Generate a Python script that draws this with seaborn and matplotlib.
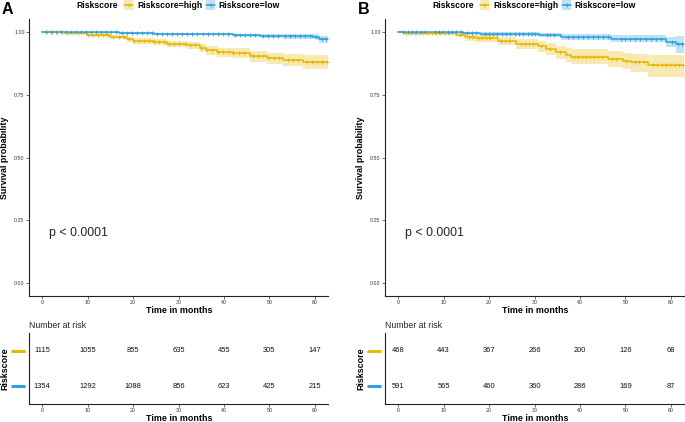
"""Kaplan-Meier curves with number-at-risk tables, two cohorts (A, B)."""
import matplotlib
matplotlib.use("Agg")
import matplotlib.pyplot as plt
from matplotlib.lines import Line2D
from matplotlib.patches import Rectangle
import numpy as np
import pandas as pd
import seaborn as sns

HIGH = "#E7B800"
LOW = "#2E9FDF"
W, H = 685, 422

# ---- panel A ----
A_high_time = [0, 4.7, 9.8, 15.0, 18.6, 20.0, 24.5, 27.4, 31.8, 34.7, 36.0, 38.4, 42.0, 45.7, 49.4, 53.0, 57.4]
A_high_surv = [1.0, 0.995, 0.987, 0.979, 0.970, 0.964, 0.958, 0.951, 0.946, 0.935, 0.926, 0.919, 0.915, 0.902, 0.895, 0.889, 0.880]
A_high_lower = [1.0, 0.991, 0.980, 0.970, 0.959, 0.952, 0.945, 0.937, 0.931, 0.919, 0.909, 0.901, 0.896, 0.881, 0.873, 0.865, 0.851]
A_high_upper = [1.0, 0.999, 0.993, 0.987, 0.980, 0.975, 0.970, 0.964, 0.960, 0.950, 0.942, 0.936, 0.933, 0.922, 0.916, 0.911, 0.906]
A_high_cens = [1.1, 2.2, 3.3, 4.4, 5.6, 6.7, 7.8, 8.9, 10.1, 11.2, 12.3, 13.4, 14.5, 15.6, 16.8, 17.9,
               19.0, 20.1, 21.3, 22.4, 23.5, 24.6, 25.8, 26.9, 28.0, 29.1, 30.2, 31.4, 32.5, 33.6,
               34.9, 36.2, 37.3, 38.6, 39.8, 40.9, 42.1, 43.3, 44.5, 46.4, 47.5, 48.6, 50.0, 51.1,
               52.2, 54.0, 55.1, 56.2, 58.2, 59.3, 60.4, 61.5, 62.6]
A_low_time = [0, 5.4, 17.0, 24.5, 42.0, 48.0, 53.0, 59.6, 61.0]
A_low_surv = [1.0, 0.997, 0.995, 0.991, 0.985, 0.983, 0.981, 0.979, 0.970]
A_low_lower = [1.0, 0.994, 0.991, 0.986, 0.978, 0.975, 0.972, 0.969, 0.955]
A_low_upper = [1.0, 1.0, 0.999, 0.996, 0.992, 0.991, 0.990, 0.989, 0.982]
A_low_cens = [0.9, 2.0, 3.1, 4.2, 5.3, 6.4, 7.5, 8.6, 9.7, 10.8, 11.9, 13.0, 14.1, 15.2, 16.3, 17.5,
              18.6, 19.7, 20.8, 21.9, 23.0, 24.1, 25.3, 26.4, 27.5, 28.6, 29.7, 30.8, 31.9, 33.0,
              34.1, 35.3, 36.4, 37.5, 38.6, 39.7, 40.8, 42.5, 43.6, 44.7, 45.8, 46.9, 48.6, 49.7,
              50.8, 51.9, 53.4, 54.5, 55.6, 56.7, 57.8, 58.9, 60.2, 61.6, 62.5]
A_max_time = 62.9
A_risk_high = [1115, 1055, 855, 635, 455, 305, 147]
A_risk_low = [1354, 1292, 1088, 856, 623, 425, 215]

# ---- panel B ----
B_high_time = [0, 1.1, 12.8, 14.7, 16.9, 21.9, 26.0, 30.7, 32.6, 34.7, 36.9, 38.0, 46.1, 49.4, 51.2, 55.0]
B_high_surv = [1.0, 0.993, 0.987, 0.977, 0.973, 0.964, 0.951, 0.942, 0.931, 0.918, 0.909, 0.901, 0.891, 0.885, 0.878, 0.866]
B_high_lower = [1.0, 0.986, 0.977, 0.964, 0.959, 0.948, 0.931, 0.920, 0.907, 0.891, 0.881, 0.871, 0.858, 0.850, 0.841, 0.818]
B_high_upper = [1.0, 1.0, 0.996, 0.989, 0.986, 0.979, 0.969, 0.962, 0.953, 0.942, 0.935, 0.929, 0.921, 0.916, 0.911, 0.906]
B_high_cens = [1.8, 2.7, 3.6, 4.6, 5.5, 6.5, 7.4, 8.3, 9.3, 10.2, 11.2, 13.5, 15.5, 16.2, 17.6, 18.5,
               19.4, 20.3, 22.6, 23.5, 24.4, 27.0, 27.9, 28.8, 29.7, 31.5, 33.4, 35.6, 38.6, 39.5,
               40.4, 41.3, 42.2, 43.1, 44.0, 44.9, 47.0, 48.0, 50.2, 52.1, 53.1, 54.0, 56.1, 57.0,
               58.0, 59.0, 59.9, 60.9, 61.9, 62.7]
B_low_time = [0, 14.3, 18.0, 31.0, 35.8, 46.8, 58.9, 61.1]
B_low_surv = [1.0, 0.995, 0.992, 0.988, 0.980, 0.972, 0.960, 0.951]
B_low_lower = [1.0, 0.989, 0.984, 0.978, 0.967, 0.957, 0.940, 0.915]
B_low_upper = [1.0, 1.0, 0.999, 0.996, 0.991, 0.986, 0.980, 0.982]
B_low_cens = [1.1, 2.1, 3.1, 4.0, 5.0, 6.0, 8.1, 8.9, 9.9, 10.9, 11.9, 12.8, 13.8, 15.2, 16.2, 17.1,
              19.0, 19.9, 20.9, 21.8, 22.8, 23.7, 24.7, 25.6, 26.6, 27.5, 28.5, 29.4, 30.2, 32.8,
              33.4, 34.2, 37.3, 38.4, 39.5, 40.6, 41.7, 42.8, 43.9, 45.0, 46.1, 49.0, 50.0, 51.0,
              52.2, 53.3, 54.5, 55.6, 56.8, 57.9, 60.2, 61.6, 62.4]
B_max_time = 62.9
B_risk_high = [468, 443, 367, 266, 200, 126, 68]
B_risk_low = [591, 565, 460, 360, 286, 169, 87]

RISK_TIMES = [0, 10, 20, 30, 40, 50, 60]
Y_TICKS = [0.0, 0.25, 0.5, 0.75, 1.0]
Y_LABELS = ["0.00", "0.25", "0.50", "0.75", "1.00"]

sns.set_style("ticks")
plt.rcParams["font.family"] = ["Liberation Sans", "DejaVu Sans"]
plt.rcParams["axes.linewidth"] = 0.8


def style_axis(ax):
    sns.despine(ax=ax)
    for s in ("left", "bottom"):
        ax.spines[s].set_color("#222222")
    ax.tick_params(length=2.0, width=0.5, pad=1.2, labelsize=3.8, colors="#333333")
    ax.set_xlim(-2.9, 62.9)
    ax.set_xticks(RISK_TIMES)
    ax.set_xticklabels([str(t) for t in RISK_TIMES])
    ax.set_xlabel("")
    ax.set_ylabel("")


def draw_curve(ax, time, surv, lower, upper, cens, tmax, color):
    t = list(time) + [tmax]
    s = list(surv) + [surv[-1]]
    lo = list(lower) + [lower[-1]]
    up = list(upper) + [upper[-1]]
    ax.fill_between(t, lo, up, step="post", color=color, alpha=0.3, lw=0)
    df = pd.DataFrame({"t": t, "s": s})
    sns.lineplot(data=df, x="t", y="s", ax=ax, color=color, lw=1.1,
                 drawstyle="steps-post", estimator=None, sort=False)
    idx = np.searchsorted(np.array(time), np.array(cens), side="right") - 1
    cdf = pd.DataFrame({"t": cens, "s": np.array(surv)[idx]})
    sns.scatterplot(data=cdf, x="t", y="s", ax=ax, color=color, marker="+",
                    s=10, linewidth=0.6, zorder=3)


def legend_key(fig, x, y, color):
    fig.add_artist(Rectangle((x / W, 1 - (y + 5) / H), 9 / W, 10 / H,
                             transform=fig.transFigure, color=color, alpha=0.3, lw=0))
    fig.add_artist(Line2D([x / W, (x + 9) / W], [1 - y / H, 1 - y / H],
                          transform=fig.transFigure, color=color, lw=1.1))
    fig.add_artist(Line2D([(x + 4.5) / W], [1 - y / H], transform=fig.transFigure,
                          color=color, marker="+", ms=3.5, mew=0.6))


def panel(fig, x0, tag, high, low, tmax, risk_high, risk_low):
    bold = dict(fontweight="bold", color="black")
    # panel tag and legend
    fig.text((x0 - 27) / W, 1 - 10 / H, tag, fontsize=11.5, va="center", ha="left", **bold)
    fig.text((x0 + 47) / W, 1 - 5 / H, "Riskscore", fontsize=6.2, va="center", ha="left", **bold)
    legend_key(fig, x0 + 95, 5, HIGH)
    fig.text((x0 + 108) / W, 1 - 5 / H, "Riskscore=high", fontsize=6.2, va="center", ha="left", **bold)
    legend_key(fig, x0 + 177, 5, LOW)
    fig.text((x0 + 189) / W, 1 - 5 / H, "Riskscore=low", fontsize=6.2, va="center", ha="left", **bold)

    # survival curves
    ax = fig.add_axes([x0 / W, (H - 296) / H, 299 / W, 277 / H])
    draw_curve(ax, *high, tmax, HIGH)
    draw_curve(ax, *low, tmax, LOW)
    style_axis(ax)
    ax.set_ylim(-0.05, 1.05)
    ax.set_yticks(Y_TICKS)
    ax.set_yticklabels(Y_LABELS)
    ax.text(1.5, 0.20, "p < 0.0001", fontsize=8.9, va="center", ha="left")
    fig.text((x0 - 24) / W, 1 - 157.5 / H, "Survival probability", rotation=90,
             fontsize=6.4, va="center", ha="center", **bold)
    fig.text((x0 + 150) / W, 1 - 310.5 / H, "Time in months", fontsize=6.4,
             va="center", ha="center", **bold)

    # risk table
    tb = fig.add_axes([x0 / W, (H - 404) / H, 299 / W, 71 / H])
    style_axis(tb)
    tb.set_ylim(0.5, 2.5)
    tb.set_yticks([])
    for t, n in zip(RISK_TIMES, risk_high):
        tb.text(t, 2, str(n), fontsize=5.4, ha="center", va="center", color="#111111")
    for t, n in zip(RISK_TIMES, risk_low):
        tb.text(t, 1, str(n), fontsize=5.4, ha="center", va="center", color="#111111")
    for yv, c in ((2, HIGH), (1, LOW)):
        tb.plot([-0.060, -0.014], [yv, yv], transform=tb.get_yaxis_transform(),
                color=c, lw=2.2, clip_on=False, solid_capstyle="butt")
    fig.text(x0 / W, 1 - 325 / H, "Number at risk", fontsize=6.3, va="center", ha="left")
    fig.text((x0 - 24) / W, 1 - 368.5 / H, "Riskscore", rotation=90, fontsize=6.4,
             va="center", ha="center", **bold)
    fig.text((x0 + 150) / W, 1 - 418.5 / H, "Time in months", fontsize=6.4,
             va="center", ha="center", **bold)


fig = plt.figure(figsize=(W / 100, H / 100), dpi=100)
panel(fig, 29, "A",
      (A_high_time, A_high_surv, A_high_lower, A_high_upper, A_high_cens),
      (A_low_time, A_low_surv, A_low_lower, A_low_upper, A_low_cens),
      A_max_time, A_risk_high, A_risk_low)
panel(fig, 385, "B",
      (B_high_time, B_high_surv, B_high_lower, B_high_upper, B_high_cens),
      (B_low_time, B_low_surv, B_low_lower, B_low_upper, B_low_cens),
      B_max_time, B_risk_high, B_risk_low)
fig.savefig("out.png", dpi=100)
